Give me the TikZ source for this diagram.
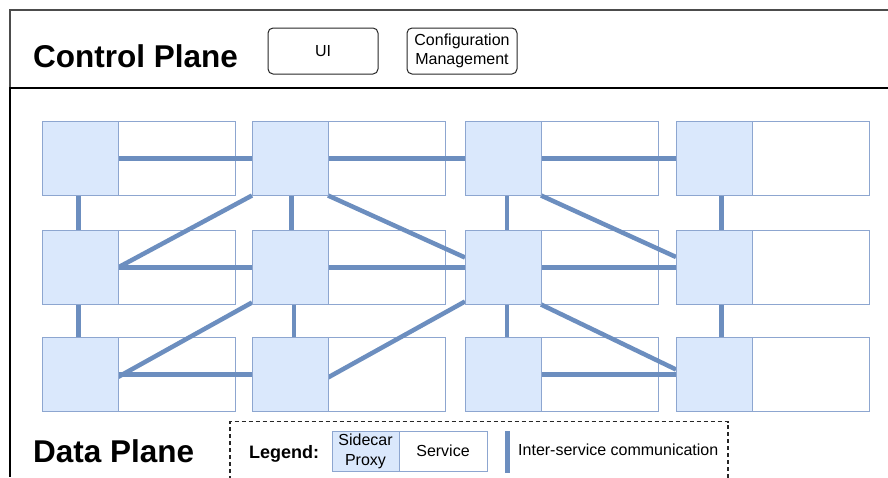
\documentclass[tikz,border=0pt]{standalone}
\usepackage{fontspec}
\setmainfont{Liberation Sans}

\definecolor{proxyfill}{HTML}{DAE8FC}
\definecolor{edgeblue}{HTML}{6C8EBF}
\definecolor{boxline}{HTML}{8DA6D0}

% service boxes below the links, sidecar proxies above them
\pgfdeclarelayer{svclayer}
\pgfdeclarelayer{linklayer}
\pgfsetlayers{svclayer,linklayer,main}

\begin{document}
\begin{tikzpicture}[x=1pt,y=-1pt,
  proxy/.style={draw=boxline, fill=proxyfill, line width=1pt, minimum width=76pt,
    minimum height=74pt, inner sep=0pt, outer sep=0pt, anchor=north west},
  svc/.style={draw=boxline, fill=white, line width=1pt, minimum width=117pt,
    minimum height=74pt, inner sep=0pt, outer sep=0pt, anchor=west},
  link/.style={draw=edgeblue, line width=4.5pt},
  cpbox/.style={draw=black!85, rounded corners=5pt, line width=1pt, minimum width=110pt,
    minimum height=46pt, inner sep=0pt, align=center,
    font=\fontsize{16}{19.5}\selectfont},
  planetitle/.style={font=\fontsize{31.5}{36}\selectfont\bfseries, anchor=base west, inner sep=0pt},
  lgproxy/.style={draw=boxline, fill=proxyfill, line width=1pt, minimum width=67pt,
    minimum height=40pt, inner sep=0pt, outer sep=0pt, anchor=north west, align=center,
    font=\fontsize{16}{20}\selectfont},
  lgsvc/.style={draw=boxline, fill=white, line width=1pt, minimum width=88pt,
    minimum height=40pt, inner sep=0pt, outer sep=0pt, anchor=west,
    font=\fontsize{16}{20}\selectfont},
  plain/.style={inner sep=0pt, font=\fontsize{16}{20}\selectfont}
]
\useasboundingbox (0,0) rectangle (888,477);

% ---------- plane frames ----------
\draw[black!70, line width=1.3pt] (888,10) -- (10,10) -- (10,88);
\draw[black, line width=2.5pt] (888,88) -- (10,88) -- (10,477);

% ---------- control plane ----------
\node[planetitle] (cptitle) at (33,67) {Control Plane};
\node[cpbox] (ui) at (323,51) {UI};
\node[cpbox] (cfg) at (462,51) {Configuration\\Management};

% ---------- data plane: sidecar proxies ----------
\foreach \r/\y in {1/121.5, 2/230.5, 3/337.5}{
  \foreach \c/\x in {1/42, 2/252, 3/465, 4/676}{
    \node[proxy] (p\r\c) at (\x,\y) {};
  }
}

% services attached to each proxy
\begin{pgfonlayer}{svclayer}
\foreach \r in {1,2,3}{
  \foreach \c in {1,2,3,4}{
    \node[svc] (s\r\c) at (p\r\c.east) {};
  }
}
\end{pgfonlayer}

% ---------- inter-service communication ----------
\begin{pgfonlayer}{linklayer}
% horizontal links
\draw[link] (p11.east) -- (p12.west);
\draw[link] (p12.east) -- (p13.west);
\draw[link] (p13.east) -- (p14.west);
\draw[link] (p21.east) -- (p22.west);
\draw[link] (p22.east) -- (p23.west);
\draw[link] (p23.east) -- (p24.west);
\draw[link] (p31.east) -- (p32.west);
\draw[link] (p33.east) -- (p34.west);
% vertical links
\draw[link] ([xshift=-1.5pt]p11.south) -- ([xshift=-1.5pt]p21.north);
\draw[link] ([xshift=-1.5pt]p21.south) -- ([xshift=-1.5pt]p31.north);
\draw[link] ([xshift=1.5pt]p12.south) -- ([xshift=1.5pt]p22.north);
\draw[link] ([xshift=4pt]p22.south) -- ([xshift=4pt]p32.north);
\draw[link] ([xshift=4pt]p13.south) -- ([xshift=4pt]p23.north);
\draw[link] ([xshift=4pt]p23.south) -- ([xshift=4pt]p33.north);
\draw[link] ([xshift=7.5pt]p14.south) -- ([xshift=7.5pt]p24.north);
\draw[link] ([xshift=7.5pt]p24.south) -- ([xshift=7.5pt]p34.north);
% diagonal links
\draw[link] (p21.east) -- (p12.south west);
\draw[link] (p12.south east) -- ([yshift=10pt]p23.west);
\draw[link] (p13.south east) -- ([yshift=10.5pt]p24.west);
\draw[link] ([yshift=-2.5pt]p31.east) -- ([yshift=2pt]p22.south west);
\draw[link] ([yshift=-3pt]p32.east) -- ([yshift=3pt]p23.south west);
\draw[link] (p23.south east) -- ([yshift=5pt]p34.west);
\end{pgfonlayer}

% ---------- data plane title and legend ----------
\node[planetitle] (dptitle) at (33,462.5) {Data Plane};

\draw[black!85, line width=1.2pt, dash pattern=on 4pt off 3pt]
  (230,480) -- (230,421.5) -- (728,421.5) -- (728,480);

\node[inner sep=0pt, anchor=base west, font=\fontsize{18}{22}\selectfont\bfseries]
  (lgtitle) at (249,458.5) {Legend:};
\node[lgproxy] (lgp) at (332,431) {Sidecar\\Proxy};
\node[lgsvc] (lgs) at (lgp.east) {Service};
\coordinate (lgtop) at (507.5,431);
\coordinate (lgbot) at (507.5,473);
\draw[link] (lgtop) -- (lgbot);
\node[plain, anchor=base west] (lgtext) at (518,455) {Inter-service communication};
\end{tikzpicture}
\end{document}
